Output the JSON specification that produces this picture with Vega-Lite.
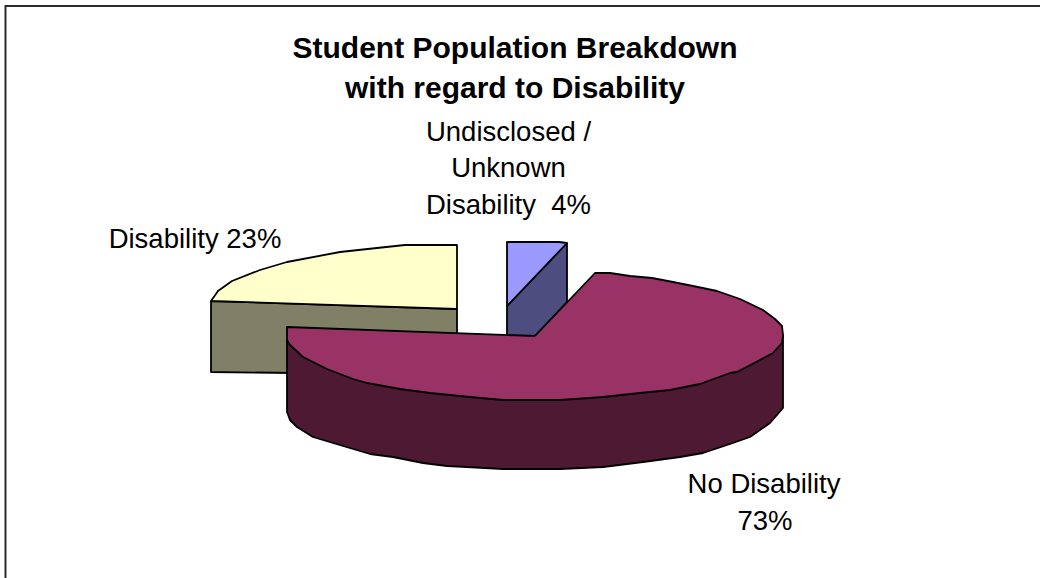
{
  "$schema": "https://vega.github.io/schema/vega-lite/v6.json",
  "width": 1040,
  "height": 578,
  "padding": 0,
  "autosize": "none",
  "background": "white",
  "view": {"stroke": null},
  "datasets": {
    "faces": [
      {"face":"Disability side","seq":1,"x":211,"y":301},{"face":"Disability side","seq":2,"x":457,"y":309},{"face":"Disability side","seq":3,"x":457,"y":375},{"face":"Disability side","seq":4,"x":211,"y":372},{"face":"Disability side","seq":5,"x":211,"y":301},

      {"face":"Disability top","seq":1,"x":457,"y":309},{"face":"Disability top","seq":2,"x":457,"y":245},{"face":"Disability top","seq":3,"x":405,"y":245},{"face":"Disability top","seq":4,"x":377,"y":248},{"face":"Disability top","seq":5,"x":340,"y":252},{"face":"Disability top","seq":6,"x":287,"y":262},{"face":"Disability top","seq":7,"x":260,"y":270},{"face":"Disability top","seq":8,"x":232,"y":281},{"face":"Disability top","seq":9,"x":218,"y":291},{"face":"Disability top","seq":10,"x":211,"y":301},{"face":"Disability top","seq":11,"x":457,"y":309},

      {"face":"Undisclosed side","seq":1,"x":567,"y":243},{"face":"Undisclosed side","seq":2,"x":507,"y":306},{"face":"Undisclosed side","seq":3,"x":507,"y":336},{"face":"Undisclosed side","seq":4,"x":535,"y":336},{"face":"Undisclosed side","seq":5,"x":567,"y":302},{"face":"Undisclosed side","seq":6,"x":567,"y":243},

      {"face":"Undisclosed top","seq":1,"x":507,"y":306},{"face":"Undisclosed top","seq":2,"x":507,"y":242},{"face":"Undisclosed top","seq":3,"x":559,"y":242},{"face":"Undisclosed top","seq":4,"x":567,"y":243},{"face":"Undisclosed top","seq":5,"x":507,"y":306},

      {"face":"No Disability side","seq":1,"x":287,"y":340},{"face":"No Disability side","seq":2,"x":503,"y":400},{"face":"No Disability side","seq":3,"x":782,"y":343},{"face":"No Disability side","seq":4,"x":783,"y":335},{"face":"No Disability side","seq":5,"x":783,"y":408},{"face":"No Disability side","seq":6,"x":770,"y":423},{"face":"No Disability side","seq":7,"x":750,"y":437},{"face":"No Disability side","seq":8,"x":730,"y":444},{"face":"No Disability side","seq":9,"x":703,"y":453},{"face":"No Disability side","seq":10,"x":680,"y":457},{"face":"No Disability side","seq":11,"x":643,"y":462},{"face":"No Disability side","seq":12,"x":603,"y":467},{"face":"No Disability side","seq":13,"x":560,"y":469},{"face":"No Disability side","seq":14,"x":503,"y":469},{"face":"No Disability side","seq":15,"x":467,"y":467},{"face":"No Disability side","seq":16,"x":447,"y":466},{"face":"No Disability side","seq":17,"x":423,"y":463},{"face":"No Disability side","seq":18,"x":393,"y":457},{"face":"No Disability side","seq":19,"x":370,"y":454},{"face":"No Disability side","seq":20,"x":333,"y":443},{"face":"No Disability side","seq":21,"x":313,"y":437},{"face":"No Disability side","seq":22,"x":297,"y":427},{"face":"No Disability side","seq":23,"x":290,"y":420},{"face":"No Disability side","seq":24,"x":287,"y":412},{"face":"No Disability side","seq":25,"x":287,"y":340},

      {"face":"No Disability top","seq":1,"x":535,"y":336},{"face":"No Disability top","seq":2,"x":595,"y":273},{"face":"No Disability top","seq":3,"x":610,"y":273},{"face":"No Disability top","seq":4,"x":630,"y":276},{"face":"No Disability top","seq":5,"x":652,"y":278},{"face":"No Disability top","seq":6,"x":673,"y":282},{"face":"No Disability top","seq":7,"x":693,"y":286},{"face":"No Disability top","seq":8,"x":717,"y":291},{"face":"No Disability top","seq":9,"x":740,"y":299},{"face":"No Disability top","seq":10,"x":763,"y":310},{"face":"No Disability top","seq":11,"x":775,"y":319},{"face":"No Disability top","seq":12,"x":782,"y":326},{"face":"No Disability top","seq":13,"x":783,"y":335},{"face":"No Disability top","seq":14,"x":782,"y":343},{"face":"No Disability top","seq":15,"x":773,"y":353},{"face":"No Disability top","seq":16,"x":760,"y":360},{"face":"No Disability top","seq":17,"x":737,"y":372},{"face":"No Disability top","seq":18,"x":730,"y":373},{"face":"No Disability top","seq":19,"x":700,"y":384},{"face":"No Disability top","seq":20,"x":680,"y":388},{"face":"No Disability top","seq":21,"x":670,"y":390},{"face":"No Disability top","seq":22,"x":640,"y":393},{"face":"No Disability top","seq":23,"x":603,"y":397},{"face":"No Disability top","seq":24,"x":575,"y":399},{"face":"No Disability top","seq":25,"x":560,"y":400},{"face":"No Disability top","seq":26,"x":503,"y":400},{"face":"No Disability top","seq":27,"x":470,"y":397},{"face":"No Disability top","seq":28,"x":430,"y":393},{"face":"No Disability top","seq":29,"x":400,"y":389},{"face":"No Disability top","seq":30,"x":367,"y":383},{"face":"No Disability top","seq":31,"x":353,"y":379},{"face":"No Disability top","seq":32,"x":327,"y":369},{"face":"No Disability top","seq":33,"x":303,"y":357},{"face":"No Disability top","seq":34,"x":290,"y":345},{"face":"No Disability top","seq":35,"x":287,"y":340},{"face":"No Disability top","seq":36,"x":287,"y":327},{"face":"No Disability top","seq":37,"x":535,"y":336}
    ],
    "frame": [
      {"seq":1,"x":5.5,"y":578},{"seq":2,"x":5.5,"y":6},{"seq":3,"x":1040,"y":6}
    ],
    "title": [
      {"text":"Student Population Breakdown","x":515,"y":58},
      {"text":"with regard to Disability","x":515,"y":98}
    ],
    "labels": [
      {"text":"Undisclosed /","x":508.5,"y":141},
      {"text":"Unknown","x":508.5,"y":177},
      {"text":"Disability\u00a0 4%","x":508.5,"y":214},
      {"text":"Disability 23%","x":195,"y":248},
      {"text":"No Disability","x":764,"y":493},
      {"text":"73%","x":765,"y":530}
    ]
  },
  "encoding": {
    "x": {"field":"x","type":"quantitative","scale":{"domain":[0,1040]},"axis":null},
    "y": {"field":"y","type":"quantitative","scale":{"domain":[578,0]},"axis":null}
  },
  "layer": [
    {
      "data": {"name":"frame"},
      "mark": {"type":"line","stroke":"#2b2b2b","strokeWidth":2},
      "encoding": {"order":{"field":"seq"}}
    },
    {
      "data": {"name":"faces"},
      "mark": {"type":"line","stroke":"black","strokeWidth":1.8,"strokeJoin":"round"},
      "encoding": {
        "order":{"field":"seq"},
        "detail":{"field":"face"},
        "fill":{
          "field":"face","type":"nominal","legend":null,
          "scale":{
            "domain":["Disability side","Disability top","Undisclosed side","Undisclosed top","No Disability side","No Disability top"],
            "range":["#808066","#FFFFCC","#4D4D80","#9999FF","#4D1933","#993366"]
          }
        }
      }
    },
    {
      "data": {"name":"title"},
      "mark": {"type":"text","font":"Liberation Sans","fontSize":30,"fontWeight":"bold","align":"center","baseline":"alphabetic","color":"black"},
      "encoding": {"text":{"field":"text"}}
    },
    {
      "data": {"name":"labels"},
      "mark": {"type":"text","font":"Liberation Sans","fontSize":27.5,"align":"center","baseline":"alphabetic","color":"black"},
      "encoding": {"text":{"field":"text"}}
    }
  ]
}
